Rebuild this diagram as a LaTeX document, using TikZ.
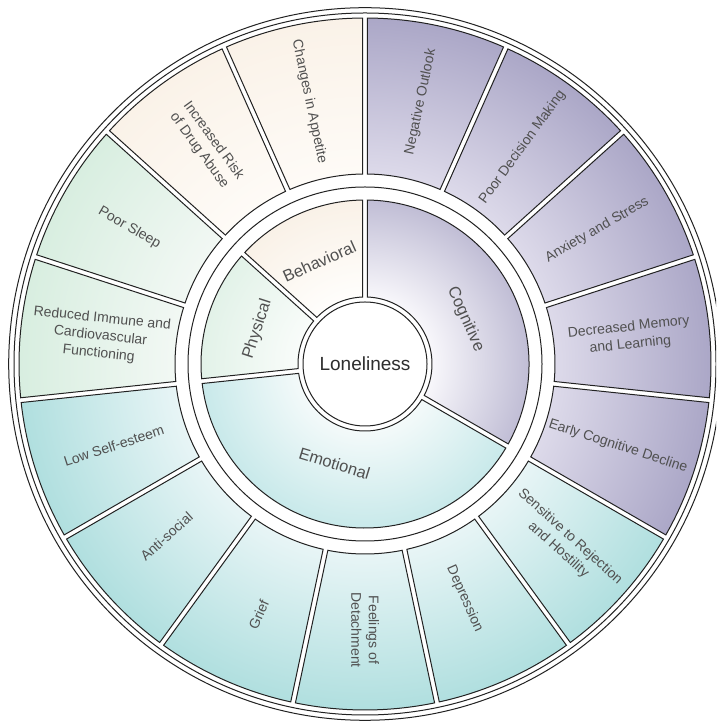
\documentclass[tikz,border=0pt]{standalone}
\usepackage{fontspec}
\setmainfont{Liberation Sans}
\definecolor{cogA}{HTML}{F8F7FB}
\definecolor{cogB}{HTML}{C0BDD5}
\definecolor{cogC}{HTML}{DDDAEA}
\definecolor{cogD}{HTML}{ABA7C7}
\definecolor{emoA}{HTML}{F4FAFA}
\definecolor{emoB}{HTML}{C8E9EA}
\definecolor{emoC}{HTML}{E8F5F6}
\definecolor{emoD}{HTML}{B0DFDF}
\definecolor{phyA}{HTML}{F9FCFA}
\definecolor{phyB}{HTML}{E2F2E8}
\definecolor{phyC}{HTML}{F2F8F4}
\definecolor{phyD}{HTML}{D8EEE0}
\definecolor{behA}{HTML}{FFFEFC}
\definecolor{behB}{HTML}{F9F1E7}
\definecolor{behC}{HTML}{FEFBF7}
\definecolor{behD}{HTML}{FAF2E8}
\definecolor{txt}{HTML}{505050}
\definecolor{ln}{HTML}{222222}
\pgfdeclareradialshading{cogsh}{\pgfpoint{0bp}{0bp}}{color(0bp)=(cogA); color(4.8bp)=(cogA); color(11.9bp)=(cogB); color(13.7bp)=(cogC); color(25bp)=(cogD); color(50bp)=(cogD)}
\pgfdeclareradialshading{emosh}{\pgfpoint{0bp}{0bp}}{color(0bp)=(emoA); color(4.8bp)=(emoA); color(11.9bp)=(emoB); color(13.7bp)=(emoC); color(25bp)=(emoD); color(50bp)=(emoD)}
\pgfdeclareradialshading{physh}{\pgfpoint{0bp}{0bp}}{color(0bp)=(phyA); color(4.8bp)=(phyA); color(11.9bp)=(phyB); color(13.7bp)=(phyC); color(25bp)=(phyD); color(50bp)=(phyD)}
\pgfdeclareradialshading{behsh}{\pgfpoint{0bp}{0bp}}{color(0bp)=(behA); color(4.8bp)=(behA); color(11.9bp)=(behB); color(13.7bp)=(behC); color(25bp)=(behD); color(50bp)=(behD)}
\def\gp{2.4}
\newcommand\segpath[4]{({#3+asin(\gp/#1)}:#1) -- ({#3+asin(\gp/#2)}:#2) arc[start angle={#3+asin(\gp/#2)}, end angle={#4-asin(\gp/#2)}, radius=#2] -- ({#4-asin(\gp/#1)}:#1) arc[start angle={#4-asin(\gp/#1)}, end angle={#3+asin(\gp/#1)}, radius=#1] -- cycle}
\newcommand\wseg[5]{\begin{scope}\clip \segpath{#1}{#2}{#3}{#4}; \shade[shading=#5] (0,0) circle (346);\end{scope}\draw[segline] \segpath{#1}{#2}{#3}{#4};}
\tikzset{
  segline/.style={draw=ln, line width=1pt},
  olab/.style={text=txt, font=\fontsize{14}{17.5}\selectfont, align=center, inner sep=0pt},
  mlab/.style={text=txt, font=\fontsize{16.5}{19}\selectfont, inner sep=0pt},
  clab/.style={text=black!82, font=\fontsize{19}{22}\selectfont, inner sep=0pt}
}
\begin{document}
\begin{tikzpicture}[x=1pt,y=1pt]
\useasboundingbox (0,0) rectangle (716,722);
\clip (0,0) rectangle (716,722);
\fill[white] (0,0) rectangle (716,722);
\begin{scope}[shift={(365,358)}]
% outer ring
\wseg{190}{346}{90}{114}{behsh}
\wseg{190}{346}{114}{138}{behsh}
\wseg{190}{346}{138}{162}{physh}
\wseg{190}{346}{162}{186}{physh}
\wseg{190}{346}{186}{210}{emosh}
\wseg{190}{346}{210}{234}{emosh}
\wseg{190}{346}{234}{258}{emosh}
\wseg{190}{346}{258}{282}{emosh}
\wseg{190}{346}{282}{306}{emosh}
\wseg{190}{346}{306}{330}{emosh}
\wseg{190}{346}{330}{354}{cogsh}
\wseg{190}{346}{354}{378}{cogsh}
\wseg{190}{346}{378}{402}{cogsh}
\wseg{190}{346}{402}{426}{cogsh}
\wseg{190}{346}{426}{450}{cogsh}
% middle ring
\wseg{67}{164}{90}{138}{behsh}
\wseg{67}{164}{138}{186}{physh}
\wseg{67}{164}{186}{330}{emosh}
\wseg{67}{164}{330}{450}{cogsh}
% circles
\draw[segline] (0,0) circle (177);
\draw[segline] (0,0) circle (351);
\draw[segline] (0,0) circle (356.3);
\draw[segline, fill=white] (0,0) circle (62);
% centre
\node[clab] (lon) at (0,0) {Loneliness};
% middle labels
\node[mlab, rotate=24] (beh) at (114:112) {Behavioral};
\node[mlab, rotate=72] (phy) at (162:113) {Physical};
\node[mlab, rotate=-17] (emo) at (253:104) {Emotional};
\node[mlab, rotate=-66] (cog) at (24:110) {Cognitive};
% outer labels
\node[olab, rotate=-78] (o1) at (102:268) {Changes in Appetite};
\node[olab, rotate=-54] (o2) at (126:270) {Increased Risk\\of Drug Abuse};
\node[olab, rotate=-30] (o3) at (150:272) {Poor Sleep};
\node[olab, rotate=-6] (o4) at (174:266) {Reduced Immune and\\Cardiovascular\\Functioning};
\node[olab, rotate=18] (o5) at (198:264) {Low Self-esteem};
\node[olab, rotate=42] (o6) at (221:263) {Anti-social};
\node[olab, rotate=66] (o7) at (247:272) {Grief};
\node[olab, rotate=-90] (o8) at (270:266) {Feelings of\\Detachment};
\node[olab, rotate=-66] (o9) at (293:255) {Depression};
\node[olab, rotate=-42] (o10) at (318:268) {Sensitive to Rejection\\and Hostility};
\node[olab, rotate=-18] (o11) at (342:266) {Early Cognitive Decline};
\node[olab, rotate=6] (o12) at (6:266) {Decreased Memory\\and Learning};
\node[olab, rotate=30] (o13) at (30:268) {Anxiety and Stress};
\node[olab, rotate=54] (o14) at (54:268) {Poor Decision Making};
\node[olab, rotate=78] (o15) at (78:268) {Negative Outlook};
\end{scope}
\end{tikzpicture}
\end{document}
